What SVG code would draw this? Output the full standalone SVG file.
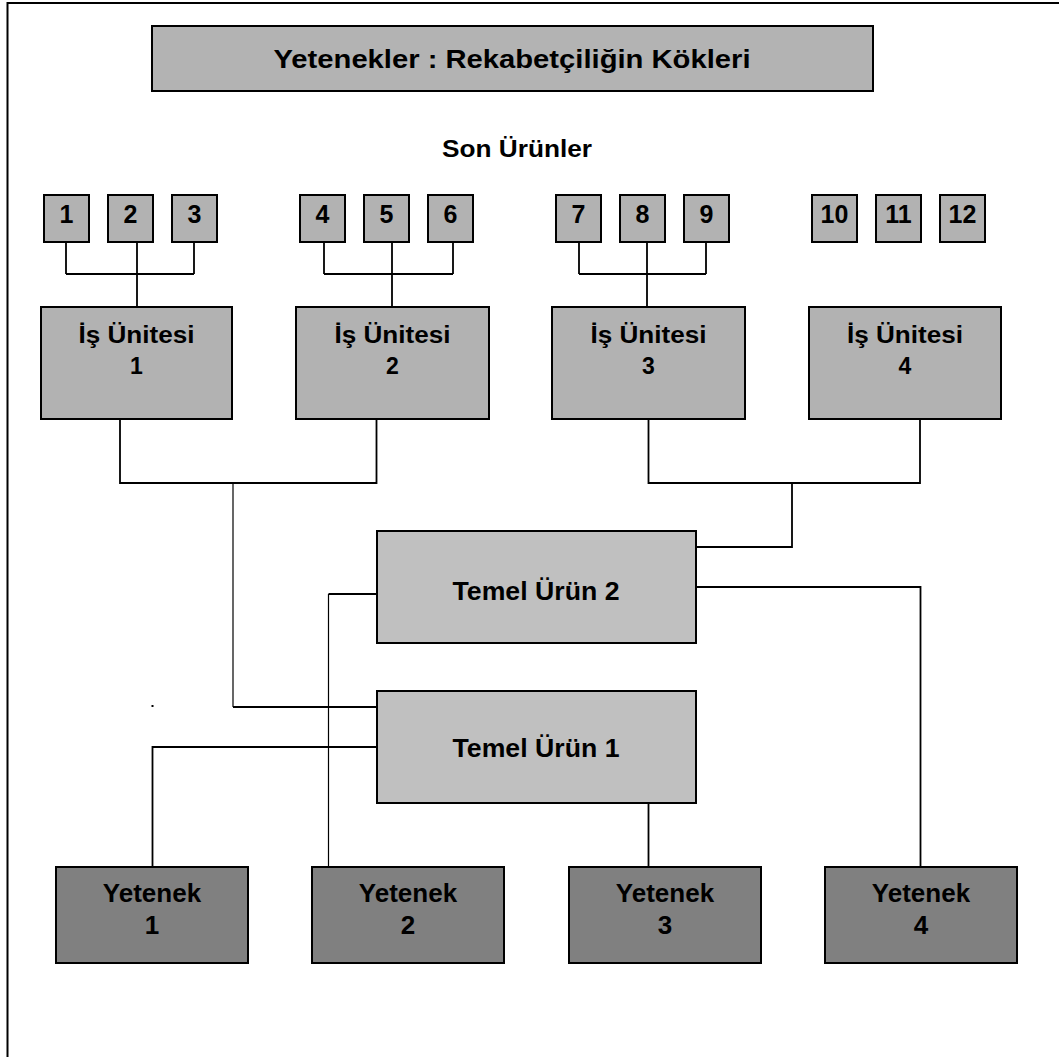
<svg xmlns="http://www.w3.org/2000/svg" width="1059" height="1057" viewBox="0 0 1059 1057">
  <style>
    text { font-family: "Liberation Sans", Arial, sans-serif; font-weight: bold; fill: #000; text-anchor: middle; }
    .box { stroke: #000; stroke-width: 2; }
    .prod { fill: #b2b2b2; }
    .unit { fill: #b2b2b2; }
    .core { fill: #c0c0c0; }
    .skill { fill: #808080; }
    .title { fill: #b3b3b3; }
    .wire { fill: none; stroke: #000; stroke-width: 1.8; }
    .thin { fill: none; stroke: #000; stroke-width: 1.2; }
    .num { font-size: 25px; }
    .lbl { font-size: 23px; }
    .core-t { font-size: 25px; }
    .skill-t { font-size: 26px; }
  </style>

  <rect width="1059" height="1057" fill="#fff"/>

  <!-- page frame: top and left edges -->
  <path d="M7.5,1057 V3 H1059" fill="none" stroke="#000" stroke-width="2"/>

  <!-- connectors -->
  <g id="connectors">
    <path class="wire" d="M66,242 V274 M137,242 V307 M194,242 V274 M66,274 H194"/>
    <path class="wire" d="M324,242 V274 M392,242 V307 M453,242 V274 M324,274 H453"/>
    <path class="wire" d="M579,242 V274 M647,242 V307 M706,242 V274 M579,274 H706"/>
    <path class="wire" d="M120,419 V483 H376.5 V419"/>
    <path class="thin" d="M233,483 V707"/>
    <path class="wire" d="M233,707 H377"/>
    <path class="wire" d="M648.5,419 V483 H920 V419"/>
    <path class="wire" d="M792,483 V547 H696"/>
    <path class="wire" d="M377,594 H328.5"/>
    <path class="thin" d="M328.5,594 V867"/>
    <path class="wire" d="M696,587 H920.5 V867"/>
    <path class="wire" d="M377,747 H152.5 V867"/>
    <path class="wire" d="M648.5,803 V867"/>
  </g>

  <rect x="151.5" y="705" width="2" height="2" fill="#000"/>

  <!-- heading -->
  <g id="title">
    <rect class="box title" x="152" y="26" width="721" height="65"/>
    <text x="512" y="68" font-size="25" textLength="477" lengthAdjust="spacingAndGlyphs">Yetenekler : Rekabetçiliğin Kökleri</text>
  </g>

  <g id="son-urunler">
    <text x="517" y="157" font-size="24" textLength="150" lengthAdjust="spacingAndGlyphs">Son Ürünler</text>
  </g>

  <!-- end products -->
  <g id="p1"><rect class="box prod" x="44" y="195" width="45" height="47"/><text class="num" x="66.5" y="223">1</text></g>
  <g id="p2"><rect class="box prod" x="108" y="195" width="45" height="47"/><text class="num" x="130.5" y="223">2</text></g>
  <g id="p3"><rect class="box prod" x="172" y="195" width="45" height="47"/><text class="num" x="194.5" y="223">3</text></g>
  <g id="p4"><rect class="box prod" x="300" y="195" width="45" height="47"/><text class="num" x="322.5" y="223">4</text></g>
  <g id="p5"><rect class="box prod" x="364" y="195" width="45" height="47"/><text class="num" x="386.5" y="223">5</text></g>
  <g id="p6"><rect class="box prod" x="428" y="195" width="45" height="47"/><text class="num" x="450.5" y="223">6</text></g>
  <g id="p7"><rect class="box prod" x="556" y="195" width="45" height="47"/><text class="num" x="578.5" y="223">7</text></g>
  <g id="p8"><rect class="box prod" x="620" y="195" width="45" height="47"/><text class="num" x="642.5" y="223">8</text></g>
  <g id="p9"><rect class="box prod" x="684" y="195" width="45" height="47"/><text class="num" x="706.5" y="223">9</text></g>
  <g id="p10"><rect class="box prod" x="812" y="195" width="45" height="47"/><text class="num" x="834.5" y="223">10</text></g>
  <g id="p11"><rect class="box prod" x="876" y="195" width="45" height="47"/><text class="num" x="898.5" y="223">11</text></g>
  <g id="p12"><rect class="box prod" x="940" y="195" width="45" height="47"/><text class="num" x="962.5" y="223">12</text></g>

  <!-- business units -->
  <g id="bu1"><rect class="box unit" x="41" y="307" width="191" height="112"/>
    <text class="lbl" x="136.5" y="343" textLength="116" lengthAdjust="spacingAndGlyphs">İş Ünitesi</text><text class="lbl" x="136.5" y="374">1</text></g>
  <g id="bu2"><rect class="box unit" x="296" y="307" width="193" height="112"/>
    <text class="lbl" x="392.5" y="343" textLength="116" lengthAdjust="spacingAndGlyphs">İş Ünitesi</text><text class="lbl" x="392.5" y="374">2</text></g>
  <g id="bu3"><rect class="box unit" x="552" y="307" width="193" height="112"/>
    <text class="lbl" x="648.5" y="343" textLength="116" lengthAdjust="spacingAndGlyphs">İş Ünitesi</text><text class="lbl" x="648.5" y="374">3</text></g>
  <g id="bu4"><rect class="box unit" x="809" y="307" width="192" height="112"/>
    <text class="lbl" x="905" y="343" textLength="116" lengthAdjust="spacingAndGlyphs">İş Ünitesi</text><text class="lbl" x="905" y="374">4</text></g>

  <!-- core products -->
  <g id="core2"><rect class="box core" x="377" y="531" width="319" height="112"/>
    <text class="core-t" x="536" y="599.5" textLength="167" lengthAdjust="spacingAndGlyphs">Temel Ürün 2</text></g>
  <g id="core1"><rect class="box core" x="377" y="691" width="319" height="112"/>
    <text class="core-t" x="536" y="757" textLength="167" lengthAdjust="spacingAndGlyphs">Temel Ürün 1</text></g>

  <!-- capabilities -->
  <g id="cap1"><rect class="box skill" x="56" y="867" width="192" height="96"/>
    <text class="skill-t" x="152" y="902">Yetenek</text><text class="skill-t" x="152" y="933.5">1</text></g>
  <g id="cap2"><rect class="box skill" x="312" y="867" width="192" height="96"/>
    <text class="skill-t" x="408" y="902">Yetenek</text><text class="skill-t" x="408" y="933.5">2</text></g>
  <g id="cap3"><rect class="box skill" x="569" y="867" width="192" height="96"/>
    <text class="skill-t" x="665" y="902">Yetenek</text><text class="skill-t" x="665" y="933.5">3</text></g>
  <g id="cap4"><rect class="box skill" x="825" y="867" width="192" height="96"/>
    <text class="skill-t" x="921" y="902">Yetenek</text><text class="skill-t" x="921" y="933.5">4</text></g>
</svg>
